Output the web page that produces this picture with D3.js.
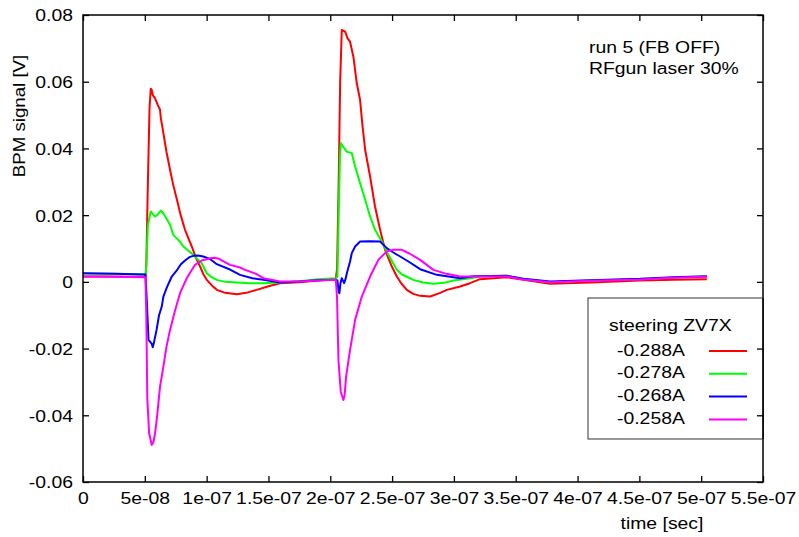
<!DOCTYPE html>
<html>
<head>
<meta charset="utf-8">
<script src="https://cdn.jsdelivr.net/npm/d3@7"></script>
<style>
  body { margin: 0; background: #fff; }
  text { font-family: "Liberation Sans", Arial, sans-serif; fill: #000; }
</style>
</head>
<body>
<div id="chart"></div>
<script>
// DATA (time in ns, signal in V)
const seriesLabels = ["-0.288A", "-0.278A", "-0.268A", "-0.258A"];
const seriesColors = ["#ff0000", "#00ff00", "#0000ff", "#ff00ff"];
const legendTitle = "steering ZV7X";
const noteLines = ["run 5 (FB OFF)", "RFgun laser 30%"];

const xTicks = [0, 5e-8, 1e-7, 1.5e-7, 2e-7, 2.5e-7, 3e-7, 3.5e-7, 4e-7, 4.5e-7, 5e-7, 5.5e-7];
const xTickLabels = ["0", "5e-08", "1e-07", "1.5e-07", "2e-07", "2.5e-07", "3e-07", "3.5e-07", "4e-07", "4.5e-07", "5e-07", "5.5e-07"];
const yTicks = [-0.06, -0.04, -0.02, 0, 0.02, 0.04, 0.06, 0.08];
const yTickLabels = ["-0.06", "-0.04", "-0.02", "0", "0.02", "0.04", "0.06", "0.08"];

const red288 = [
  [0, 0.0016], [20, 0.0016], [40, 0.0015], [50.5, 0.0015], [51.2, 0.005], [52.5, 0.03], [53.8, 0.052],
  [54.8, 0.0579], [55.6, 0.0575], [56.4, 0.056], [58.3, 0.055], [60.5, 0.053], [62.3, 0.0516], [63, 0.049],
  [65, 0.0446], [67.5, 0.039], [70.4, 0.0336], [73, 0.029], [76, 0.0246], [79, 0.02], [82.5, 0.0156],
  [85.5, 0.0128], [88, 0.0106], [91, 0.0075], [94.7, 0.0046], [97.5, 0.0022], [100.1, 0.0006], [104, -0.001],
  [108.2, -0.0024], [115, -0.0033], [124.4, -0.0037], [132, -0.0033], [140.5, -0.0024], [150, -0.0013],
  [159.4, -0.0004], [175, -0.0001], [190, 0.0004], [204.5, 0.0009], [205.5, 0.004], [206.8, 0.03],
  [208, 0.06], [209.3, 0.0755], [212, 0.075], [214, 0.073], [216, 0.072], [218.7, 0.0675], [221.4, 0.0596],
  [224.1, 0.0546], [226, 0.047], [228.2, 0.0396], [232.2, 0.0316], [236.2, 0.0226], [240.3, 0.0156],
  [244.3, 0.0096], [249.8, 0.0046], [253.8, 0.0016], [257.5, -0.0005], [261.9, -0.0024], [267, -0.0036],
  [272.7, -0.0042], [280.8, -0.0044], [288.9, -0.0033], [294.3, -0.0024], [305, -0.0014], [313, -0.0004],
  [321.2, 0.0008], [342.8, 0.0014], [356.3, 0.0006], [377.8, -0.0006], [410.2, -0.0002], [450.7, 0.0004],
  [477.6, 0.0006], [504.6, 0.0008]
];
const green278 = [
  [0, 0.0025], [25, 0.0024], [50.8, 0.0022], [51.5, 0.008], [52.5, 0.017], [54.8, 0.0211], [56.5, 0.0203],
  [58.3, 0.0196], [60.5, 0.0202], [62.9, 0.0214], [65, 0.0205], [67.5, 0.019], [70.4, 0.0171], [73, 0.0141],
  [78, 0.0122], [81.2, 0.0106], [85, 0.0094], [89.2, 0.0081], [96, 0.0056], [100.1, 0.0026], [104, 0.0014],
  [108.2, 0.0006], [115, 0.0], [124.4, -0.0002], [135, -0.0004], [145.9, -0.0004], [159.4, -0.0002],
  [175, 0.0002], [190, 0.0008], [204.5, 0.0011], [205.8, 0.0015], [206.8, 0.02], [207.8, 0.037],
  [208.5, 0.0416], [210.5, 0.0405], [213.4, 0.039], [217.4, 0.0386], [220.1, 0.0346], [224.1, 0.0296],
  [228.2, 0.0246], [232.2, 0.0196], [236.2, 0.0156], [241.7, 0.0121], [247, 0.0081], [253.8, 0.0036],
  [258, 0.0022], [267.2, 0.0006], [275, -0.0002], [283.4, -0.0006], [292, -0.0003], [299.6, 0.0004],
  [313.1, 0.0011], [321.2, 0.0016], [342.8, 0.0018], [356.3, 0.0008], [377.8, -0.0001], [410.2, 0.0004],
  [450.7, 0.0008], [477.6, 0.0013], [504.6, 0.0016]
];
const blue268 = [
  [0, 0.0026], [25, 0.0024], [50.5, 0.0022], [51.5, -0.005], [53, -0.0174], [55.5, -0.0185], [56.4, -0.0196],
  [57.5, -0.018], [59.5, -0.0144], [61.5, -0.01], [63.7, -0.0074], [65, -0.0044], [68, -0.0015],
  [71.8, 0.0016], [76, 0.0035], [79, 0.0052], [82.5, 0.0064], [86, 0.0074], [89.2, 0.0078], [93, 0.0079],
  [97.3, 0.0076], [103, 0.0068], [108.2, 0.0053], [118.9, 0.0037], [127, 0.0021], [137, 0.0011],
  [145.9, 0.0006], [159.4, -0.0002], [175, 0.0001], [190, 0.0005], [204.5, 0.0006], [205.8, 0.0004],
  [206.8, -0.003], [207.4, -0.0034], [208.2, -0.0005], [209.3, 0.0011], [211.2, -0.0004], [212.3, 0.0008],
  [213.4, 0.0026], [216, 0.0061], [217.4, 0.0086], [220.1, 0.0106], [224.1, 0.0121], [232, 0.0122],
  [240.3, 0.0121], [245.7, 0.0101], [251, 0.0088], [256.5, 0.0076], [263.2, 0.0061], [272.7, 0.0038],
  [286.2, 0.0021], [305, 0.0011], [315.8, 0.0017], [342.8, 0.0018], [356.3, 0.0009], [377.8, 0.0001],
  [410.2, 0.0005], [450.7, 0.0009], [477.6, 0.0014], [504.6, 0.0017]
];
const magenta258 = [
  [0, 0.0016], [25, 0.0015], [50.5, 0.0014], [51.2, -0.01], [52, -0.035], [53.5, -0.0454], [55.6, -0.0489],
  [57, -0.048], [58.3, -0.0454], [60, -0.04], [62.3, -0.0314], [65, -0.0254], [67.5, -0.0195],
  [70.4, -0.0144], [74.5, -0.0085], [78.5, -0.0034], [83.9, 0.0011], [90.6, 0.0051], [96, 0.0064],
  [102.8, 0.0071], [106, 0.0072], [110, 0.0069], [118.9, 0.0051], [127, 0.0043], [131.1, 0.0036],
  [140, 0.0024], [145.9, 0.0011], [159.4, 0.0001], [175, 0.0001], [190, 0.0004], [204.5, 0.0006],
  [205.5, -0.005], [206.6, -0.0234], [208.5, -0.033], [210.6, -0.0354], [211.6, -0.034], [212.8, -0.0284],
  [216, -0.0204], [220.1, -0.0114], [225.5, -0.0044], [232.2, 0.0016], [236.2, 0.0046], [238.9, 0.0066],
  [245.7, 0.0091], [251, 0.0096], [257.9, 0.0096], [264, 0.0085], [272.7, 0.0066], [283.4, 0.0036],
  [294, 0.0024], [305, 0.0016], [315.8, 0.0016], [342.8, 0.0016], [356.3, 0.0007], [377.8, -0.0001],
  [410.2, 0.0003], [450.7, 0.0007], [477.6, 0.0012], [504.6, 0.0015]
];
const allSeries = [red288, green278, blue268, magenta258];

// SET GLOBAL VARIABLES
const W = 799, H = 537;
const plot = { left: 83, top: 15, right: 763, bottom: 482 };
const fontSize = 17;
const stretch = 1.14; // the reference text is wider than it is tall

const svg = d3.select("#chart")
  .append("svg")
  .attr("width", W)
  .attr("height", H);

svg.append("rect").attr("width", W).attr("height", H).attr("fill", "#fff");

const x = d3.scaleLinear().domain([0, 5.5e-7]).range([plot.left, plot.right]);
const y = d3.scaleLinear().domain([-0.06, 0.08]).range([plot.bottom, plot.top]);

// helper for stretched text
function addText(px, py, str, anchor, rotate) {
  const tr = rotate
    ? `translate(${px},${py}) rotate(-90) scale(1.1,1)`
    : `translate(${px},${py}) scale(${stretch},1)`;
  return svg.append("text")
    .attr("transform", tr)
    .attr("text-anchor", anchor || "start")
    .style("font-size", fontSize + "px")
    .text(str);
}

// Axes: inward ticks on all four sides
const tickLen = 6;
const gx = svg.append("g")
  .attr("transform", `translate(0,${plot.bottom})`)
  .call(d3.axisBottom(x).tickValues(xTicks).tickSize(-tickLen).tickSizeOuter(0)
    .tickFormat((d, i) => xTickLabels[i]));
gx.selectAll("text")
  .attr("y", 22).attr("dy", null)
  .attr("transform", `scale(${stretch},1)`)
  .style("font-size", fontSize + "px")
  .style("font-family", null);

svg.append("g")
  .attr("transform", `translate(0,${plot.top})`)
  .call(d3.axisTop(x).tickValues(xTicks).tickSize(-tickLen).tickSizeOuter(0).tickFormat(""));

const gy = svg.append("g")
  .attr("transform", `translate(${plot.left},0)`)
  .call(d3.axisLeft(y).tickValues(yTicks).tickSize(-tickLen).tickSizeOuter(0)
    .tickFormat((d, i) => yTickLabels[i]));
gy.selectAll("text")
  .attr("x", -10 / stretch).attr("dy", "0.35em")
  .attr("transform", `scale(${stretch},1)`)
  .style("font-size", fontSize + "px")
  .style("font-family", null);

svg.append("g")
  .attr("transform", `translate(${plot.right},0)`)
  .call(d3.axisRight(y).tickValues(yTicks).tickSize(-tickLen).tickSizeOuter(0).tickFormat(""));

svg.selectAll(".domain").remove();
svg.selectAll(".tick line").attr("stroke", "#000").attr("stroke-width", 1.3);

// Lines
const line = d3.line()
  .x(d => x(d[0] * 1e-9))
  .y(d => y(d[1]));

allSeries.forEach((s, i) => {
  svg.append("path")
    .datum(s)
    .attr("fill", "none")
    .attr("stroke", seriesColors[i])
    .attr("stroke-width", 2)
    .attr("stroke-linejoin", "round")
    .attr("d", line);
});

// Border
svg.append("rect")
  .attr("x", plot.left).attr("y", plot.top)
  .attr("width", plot.right - plot.left).attr("height", plot.bottom - plot.top)
  .attr("fill", "none").attr("stroke", "#000").attr("stroke-width", 1.5);

// Axis labels
addText(25, 116, "BPM signal [V]", "middle", true);
addText(662, 529, "time [sec]", "middle");

// Note
noteLines.forEach((t, i) => addText(589, 53 + i * 21, t));

// Legend
svg.append("rect")
  .attr("x", 588).attr("y", 298)
  .attr("width", plot.right - 588).attr("height", 141)
  .attr("fill", "#fff").attr("stroke", "#333").attr("stroke-width", 1);

addText(609, 331, legendTitle);
seriesLabels.forEach((lab, i) => {
  const by = 355.5 + i * 22.8;
  addText(617, by, lab);
  svg.append("line")
    .attr("x1", 709).attr("x2", 747)
    .attr("y1", by - 4.5).attr("y2", by - 4.5)
    .attr("stroke", seriesColors[i]).attr("stroke-width", 2);
});

// right-side ticks stay visible over the legend box
svg.append("g")
  .attr("transform", `translate(${plot.right},0)`)
  .call(d3.axisRight(y).tickValues(yTicks.filter(v => v < -0.01 && v > -0.05)).tickSize(-tickLen).tickSizeOuter(0).tickFormat(""))
  .call(g => g.select(".domain").remove())
  .selectAll("line").attr("stroke-width", 1.3);
svg.append("line")
  .attr("x1", plot.right).attr("x2", plot.right).attr("y1", 298).attr("y2", 439)
  .attr("stroke", "#000").attr("stroke-width", 1.5);
</script>
</body>
</html>
